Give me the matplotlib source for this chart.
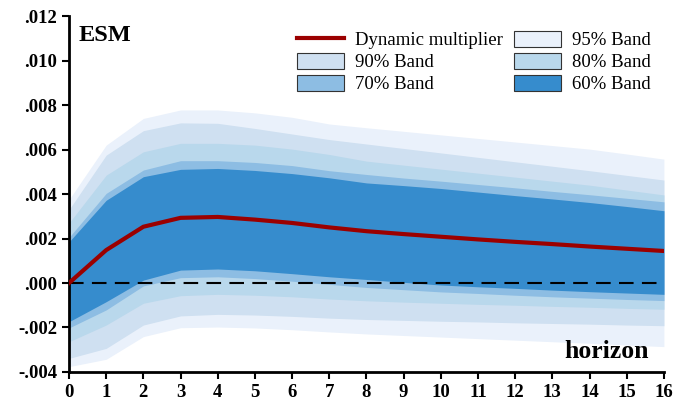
import numpy as np
import matplotlib
matplotlib.use('Agg')
import matplotlib.pyplot as plt
from matplotlib.patches import Patch
from matplotlib.lines import Line2D
from matplotlib.ticker import FuncFormatter

plt.rcParams['font.family'] = ['Liberation Serif', 'DejaVu Serif']

# --- Impulse response (values in units of 1e-3) ---
horizon = np.arange(17)
multiplier = [0.00, 1.48, 2.53, 2.93, 2.97, 2.85, 2.70, 2.50, 2.33, 2.20, 2.08, 1.96, 1.85, 1.75, 1.64, 1.54, 1.44]

upper_95 = [3.75, 6.20, 7.40, 7.78, 7.78, 7.65, 7.45, 7.15, 6.98, 6.82, 6.66, 6.50, 6.34, 6.18, 6.02, 5.80, 5.57]
upper_90 = [3.30, 5.75, 6.85, 7.20, 7.18, 6.95, 6.70, 6.45, 6.25, 6.05, 5.85, 5.65, 5.45, 5.25, 5.05, 4.84, 4.63]
upper_80 = [2.70, 4.85, 5.90, 6.28, 6.28, 6.20, 6.02, 5.78, 5.48, 5.30, 5.12, 4.94, 4.76, 4.58, 4.40, 4.18, 3.96]
upper_70 = [2.05, 4.03, 5.08, 5.50, 5.50, 5.42, 5.28, 5.05, 4.88, 4.72, 4.58, 4.43, 4.28, 4.12, 3.97, 3.81, 3.65]
upper_60 = [1.85, 3.72, 4.78, 5.11, 5.15, 5.06, 4.92, 4.73, 4.50, 4.38, 4.25, 4.09, 3.93, 3.78, 3.62, 3.44, 3.25]

lower_60 = [-1.74, -0.84, 0.13, 0.58, 0.63, 0.55, 0.42, 0.28, 0.16, 0.03, -0.09, -0.17, -0.24, -0.32, -0.39, -0.45, -0.51]
lower_70 = [-2.02, -1.21, -0.13, 0.24, 0.28, 0.20, 0.08, -0.06, -0.20, -0.30, -0.40, -0.47, -0.55, -0.62, -0.68, -0.74, -0.79]
lower_80 = [-2.64, -1.89, -0.91, -0.57, -0.51, -0.55, -0.62, -0.72, -0.80, -0.86, -0.91, -0.96, -1.00, -1.05, -1.09, -1.14, -1.18]
lower_90 = [-3.39, -2.94, -1.89, -1.48, -1.41, -1.44, -1.50, -1.58, -1.64, -1.68, -1.72, -1.75, -1.79, -1.82, -1.85, -1.89, -1.92]
lower_95 = [-3.76, -3.43, -2.41, -2.01, -1.98, -2.02, -2.10, -2.20, -2.29, -2.36, -2.43, -2.50, -2.57, -2.64, -2.71, -2.79, -2.86]

band_labels = ['95% Band', '90% Band', '80% Band', '70% Band', '60% Band']
band_colors = ['#eaf1fb', '#cfe0f1', '#b9d8ec', '#8dbde3', '#368ccd']
uppers = [upper_95, upper_90, upper_80, upper_70, upper_60]
lowers = [lower_95, lower_90, lower_80, lower_70, lower_60]

scale = 1e-3

fig = plt.figure(figsize=(6.88, 4.03), dpi=100)
ax = fig.add_axes([0.1003, 0.077, 0.8647, 0.883])

for lab, col, up, lo in zip(band_labels, band_colors, uppers, lowers):
    ax.fill_between(horizon, np.array(lo) * scale, np.array(up) * scale,
                    color=col, lw=0, zorder=1)

ax.axhline(0, color='black', lw=1.5, dashes=(7, 4), zorder=2)
ax.plot(horizon, np.array(multiplier) * scale, color='#9b0000', lw=3, zorder=3)

ax.set_xlim(0, 16)
ax.set_ylim(-0.004, 0.012)
ax.set_xticks(horizon)
ax.set_yticks(np.arange(-0.004, 0.0121, 0.002))

def fmt(v, pos):
    s = f'{v:.3f}'
    return s.replace('0.', '.', 1)

ax.yaxis.set_major_formatter(FuncFormatter(fmt))
for side in ['top', 'right']:
    ax.spines[side].set_visible(False)
for side in ['left', 'bottom']:
    ax.spines[side].set_linewidth(2)
ax.tick_params(axis='both', direction='out', length=5, width=1.5, labelsize=13.5)
for lbl in ax.get_xticklabels() + ax.get_yticklabels():
    lbl.set_fontweight('bold')

ax.text(0.016, 0.975, 'ESM', transform=ax.transAxes, fontsize=17.5,
        fontweight='bold', va='top', ha='left')
ax.text(0.975, 0.025, 'horizon', transform=ax.transAxes, fontsize=18.5,
        fontweight='bold', va='bottom', ha='right')

# legend filled column-wise: line, 90, 70 | 95, 80, 60
patch = {lab: Patch(facecolor=col, edgecolor='#333333', lw=0.8)
         for lab, col in zip(band_labels, band_colors)}
handles = [Line2D([0], [0], color='#9b0000', lw=3), patch['90% Band'], patch['70% Band'],
           patch['95% Band'], patch['80% Band'], patch['60% Band']]
labels = ['Dynamic multiplier', '90% Band', '70% Band', '95% Band', '80% Band', '60% Band']
ax.legend(handles, labels, ncol=2, frameon=False, loc='upper right',
          bbox_to_anchor=(1.0, 0.995), fontsize=13.5, handlelength=2.5,
          handleheight=0.9, columnspacing=0.6, labelspacing=0.2, handletextpad=0.6,
          borderaxespad=0.3)

fig.savefig('out.png', dpi=100)
